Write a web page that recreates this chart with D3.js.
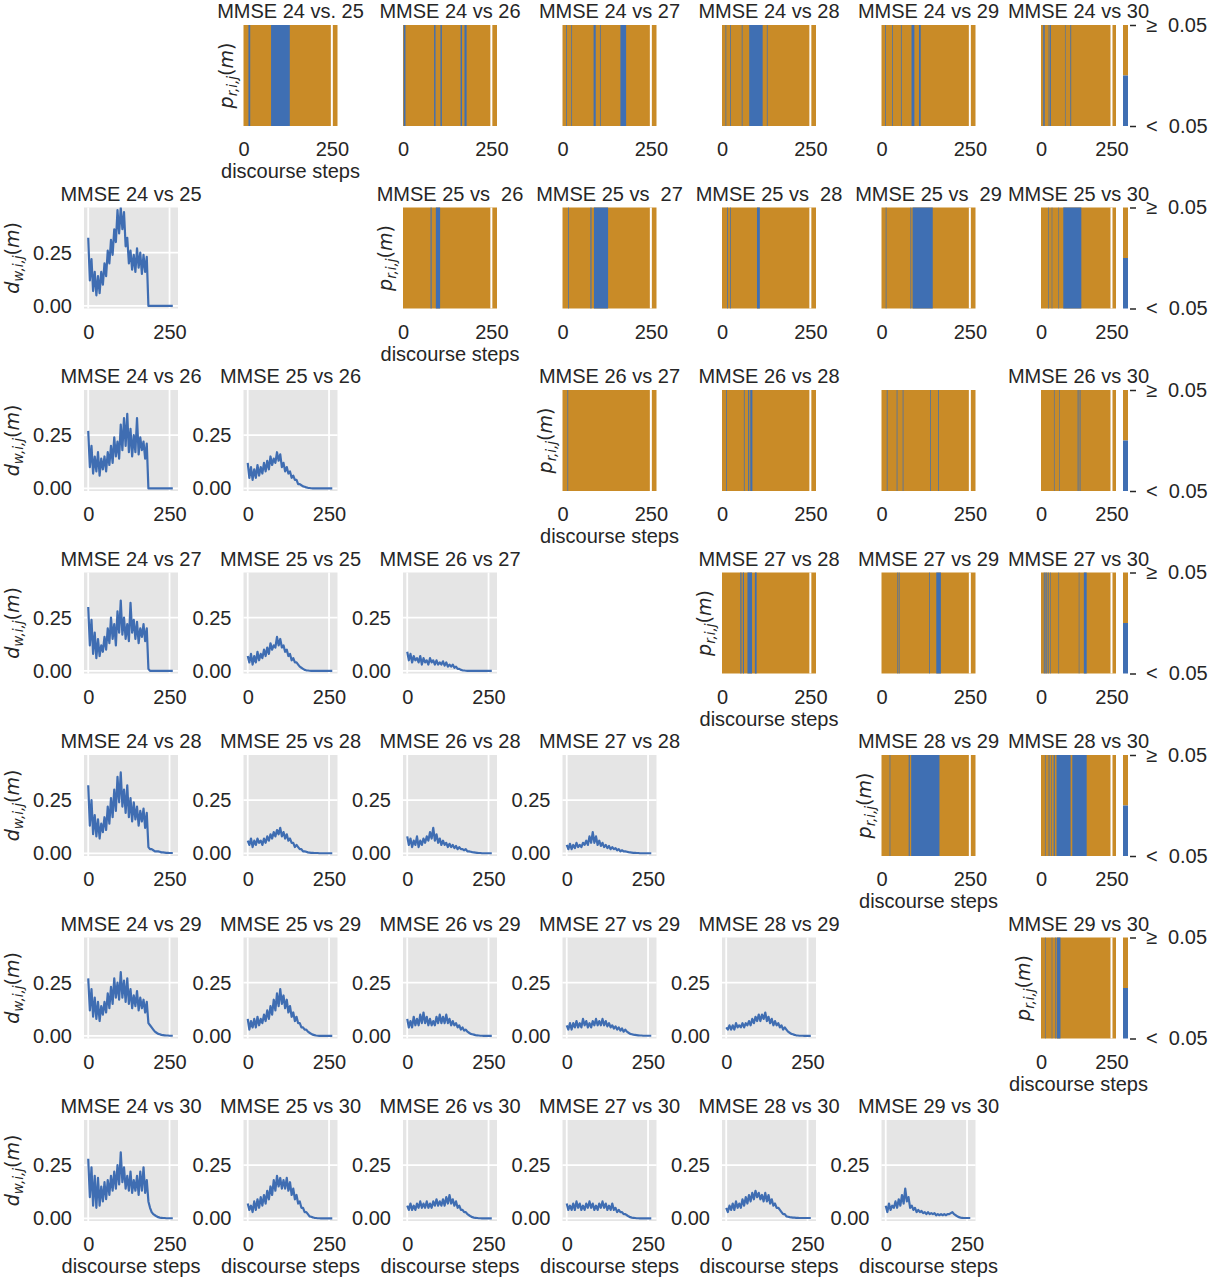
<!DOCTYPE html>
<html><head><meta charset="utf-8">
<script src="https://cdn.jsdelivr.net/npm/d3@7"></script>
<style>
body{margin:0;background:#fff}
svg text{font-family:"Liberation Sans",Arial,sans-serif;fill:#262626}
.math{font-family:"DejaVu Sans",sans-serif}
</style>
</head><body><svg id="chart" width="1212" height="1280"></svg>
<script>
// ---------------- data ----------------
const mmseLevels=[24,25,26,27,28,29,30];
const stepGrid=d3.range(0,265,5); // discourse steps sampled
const xTickVals=[0,250];
const yTickVals=[0,0.25];
const cbarTickLabels=["<\u00a0\u00a00.05","\u2265\u00a0\u00a00.05"];

// d_w,i,j(m) series (every 5 steps)
const d24_25=[0.32,0.12,0.22,0.07,0.16,0.05,0.14,0.06,0.16,0.10,0.20,0.14,0.26,0.20,0.31,0.24,0.36,0.30,0.45,0.34,0.46,0.36,0.44,0.28,0.32,0.20,0.26,0.17,0.24,0.16,0.27,0.18,0.25,0.15,0.24,0.16,0.23,0,0,0,0,0,0,0,0,0,0,0,0,0,0,0,0];
const d24_26=[0.27,0.10,0.20,0.07,0.15,0.08,0.17,0.06,0.14,0.09,0.15,0.08,0.17,0.11,0.20,0.12,0.24,0.15,0.22,0.14,0.30,0.18,0.33,0.20,0.35,0.17,0.28,0.15,0.25,0.17,0.33,0.16,0.24,0.18,0.22,0.14,0.21,0,0,0,0,0,0,0,0,0,0,0,0,0,0,0,0];
const d24_27=[0.30,0.12,0.24,0.08,0.18,0.06,0.15,0.07,0.12,0.09,0.16,0.10,0.20,0.13,0.25,0.15,0.22,0.12,0.28,0.18,0.33,0.17,0.25,0.15,0.22,0.14,0.32,0.18,0.24,0.15,0.23,0.13,0.20,0.16,0.22,0.14,0.20,0.01,0,0,0,0,0,0,0,0,0,0,0,0,0,0,0];
const d24_28=[0.32,0.13,0.25,0.09,0.18,0.08,0.16,0.07,0.14,0.10,0.17,0.11,0.22,0.14,0.26,0.17,0.30,0.20,0.36,0.24,0.38,0.22,0.30,0.19,0.32,0.17,0.26,0.15,0.24,0.16,0.22,0.13,0.20,0.15,0.21,0.12,0.19,0.03,0.02,0.02,0.015,0.01,0.01,0.01,0.008,0.005,0.005,0.004,0.003,0.003,0.002,0.002,0.002];
const d24_29=[0.27,0.12,0.22,0.09,0.18,0.08,0.16,0.07,0.14,0.10,0.16,0.11,0.20,0.13,0.23,0.15,0.27,0.18,0.25,0.17,0.30,0.18,0.26,0.16,0.27,0.15,0.22,0.13,0.19,0.14,0.21,0.12,0.18,0.13,0.17,0.11,0.16,0.06,0.05,0.04,0.03,0.02,0.015,0.01,0.008,0.005,0.004,0.003,0.002,0.002,0.001,0.001,0.001];
const d24_30=[0.28,0.10,0.24,0.06,0.20,0.05,0.19,0.06,0.15,0.08,0.17,0.09,0.18,0.11,0.20,0.13,0.22,0.14,0.25,0.16,0.31,0.17,0.24,0.14,0.20,0.13,0.22,0.12,0.18,0.13,0.20,0.11,0.22,0.13,0.24,0.12,0.18,0.08,0.05,0.03,0.02,0.015,0.01,0.006,0.004,0.003,0.002,0.002,0.001,0.001,0.001,0.001,0.001];
const d25_26=[0.12,0.05,0.10,0.04,0.09,0.05,0.11,0.06,0.10,0.07,0.12,0.08,0.13,0.09,0.15,0.11,0.14,0.12,0.17,0.13,0.16,0.10,0.12,0.08,0.10,0.07,0.08,0.05,0.06,0.04,0.04,0.02,0.02,0.015,0.01,0.008,0.005,0.003,0.002,0.001,0,0,0,0,0,0,0,0,0,0,0,0,0];
const d25_27=[0.07,0.04,0.08,0.03,0.07,0.04,0.09,0.05,0.08,0.06,0.10,0.07,0.11,0.08,0.13,0.10,0.12,0.11,0.16,0.12,0.15,0.11,0.12,0.09,0.10,0.07,0.08,0.05,0.06,0.04,0.04,0.03,0.02,0.015,0.01,0.005,0.003,0.002,0.001,0,0,0,0,0,0,0,0,0,0,0,0,0,0];
const d26_27=[0.09,0.05,0.08,0.04,0.07,0.05,0.06,0.04,0.07,0.03,0.06,0.04,0.05,0.03,0.06,0.04,0.05,0.03,0.05,0.03,0.04,0.03,0.045,0.025,0.04,0.02,0.03,0.02,0.03,0.015,0.02,0.01,0.01,0.005,0.003,0.002,0.001,0,0,0,0,0,0,0,0,0,0,0,0,0,0,0,0];
const d25_28=[0.06,0.04,0.07,0.03,0.06,0.04,0.07,0.05,0.06,0.04,0.07,0.05,0.08,0.06,0.09,0.07,0.10,0.08,0.11,0.09,0.12,0.08,0.10,0.07,0.09,0.06,0.07,0.05,0.05,0.03,0.04,0.03,0.02,0.02,0.01,0.01,0.008,0.005,0.004,0.003,0.003,0.002,0.002,0.002,0.001,0.001,0.001,0.001,0.001,0.001,0.001,0.001,0.001];
const d26_28=[0.08,0.04,0.07,0.03,0.06,0.04,0.08,0.03,0.06,0.04,0.07,0.05,0.08,0.06,0.10,0.07,0.12,0.06,0.09,0.05,0.07,0.04,0.06,0.04,0.05,0.03,0.045,0.03,0.04,0.025,0.035,0.02,0.03,0.02,0.02,0.015,0.02,0.01,0.01,0.008,0.006,0.005,0.004,0.003,0.002,0.002,0.001,0.001,0.001,0.001,0.001,0.001,0.001];
const d27_28=[0.04,0.02,0.045,0.02,0.04,0.025,0.05,0.03,0.04,0.03,0.05,0.04,0.06,0.04,0.08,0.05,0.10,0.05,0.08,0.04,0.06,0.035,0.05,0.03,0.04,0.025,0.035,0.02,0.03,0.02,0.025,0.015,0.02,0.01,0.015,0.01,0.01,0.008,0.006,0.005,0.004,0.003,0.003,0.002,0.002,0.001,0.001,0.001,0.001,0.001,0.001,0.001,0.001];
const d25_29=[0.08,0.03,0.07,0.04,0.08,0.04,0.09,0.05,0.08,0.06,0.10,0.07,0.12,0.08,0.14,0.10,0.17,0.12,0.20,0.14,0.22,0.15,0.19,0.13,0.17,0.11,0.14,0.09,0.11,0.07,0.09,0.06,0.06,0.04,0.04,0.03,0.03,0.02,0.015,0.01,0.006,0.004,0.002,0.001,0,0,0,0,0,0,0,0,0];
const d26_29=[0.08,0.04,0.07,0.04,0.09,0.05,0.08,0.05,0.10,0.06,0.11,0.06,0.09,0.05,0.08,0.05,0.07,0.05,0.09,0.06,0.10,0.06,0.09,0.06,0.10,0.06,0.08,0.05,0.07,0.05,0.06,0.04,0.05,0.03,0.04,0.025,0.03,0.02,0.015,0.01,0.008,0.006,0.004,0.003,0.002,0.001,0.001,0,0,0,0,0,0];
const d27_29=[0.05,0.03,0.06,0.03,0.06,0.04,0.07,0.04,0.06,0.04,0.08,0.05,0.07,0.04,0.06,0.04,0.07,0.05,0.08,0.05,0.07,0.05,0.08,0.05,0.07,0.045,0.06,0.04,0.05,0.035,0.045,0.03,0.04,0.025,0.035,0.02,0.03,0.02,0.015,0.01,0.008,0.006,0.005,0.004,0.003,0.002,0.002,0.001,0.001,0.001,0.001,0.001,0.001];
const d28_29=[0.04,0.03,0.05,0.03,0.05,0.03,0.06,0.04,0.05,0.04,0.06,0.04,0.06,0.05,0.07,0.05,0.08,0.06,0.09,0.07,0.10,0.07,0.10,0.08,0.11,0.07,0.09,0.06,0.08,0.05,0.07,0.05,0.06,0.04,0.05,0.03,0.04,0.03,0.02,0.015,0.01,0.008,0.005,0.003,0.002,0.001,0.001,0.001,0,0,0,0,0];
const d25_30=[0.07,0.04,0.06,0.03,0.08,0.04,0.09,0.05,0.10,0.06,0.11,0.07,0.13,0.09,0.15,0.11,0.18,0.13,0.20,0.15,0.19,0.14,0.18,0.14,0.19,0.13,0.17,0.11,0.14,0.09,0.11,0.07,0.08,0.05,0.05,0.03,0.03,0.02,0.01,0.008,0.005,0.003,0.002,0.001,0.001,0,0,0,0,0,0,0,0];
const d26_30=[0.06,0.04,0.07,0.04,0.06,0.04,0.07,0.05,0.08,0.05,0.07,0.05,0.08,0.05,0.07,0.05,0.08,0.06,0.09,0.06,0.08,0.06,0.09,0.06,0.10,0.07,0.11,0.07,0.09,0.06,0.08,0.05,0.06,0.04,0.04,0.03,0.03,0.02,0.015,0.01,0.006,0.004,0.003,0.002,0.001,0.001,0,0,0,0,0,0,0];
const d27_30=[0.07,0.04,0.06,0.04,0.07,0.04,0.08,0.05,0.07,0.04,0.06,0.04,0.07,0.05,0.08,0.05,0.07,0.04,0.06,0.04,0.07,0.05,0.08,0.05,0.07,0.04,0.06,0.04,0.07,0.04,0.05,0.03,0.04,0.03,0.03,0.02,0.02,0.015,0.01,0.006,0.004,0.003,0.002,0.001,0.001,0,0,0,0,0,0,0,0];
const d28_30=[0.05,0.03,0.06,0.04,0.07,0.04,0.08,0.05,0.07,0.05,0.09,0.06,0.10,0.07,0.11,0.08,0.12,0.09,0.13,0.10,0.12,0.09,0.11,0.08,0.12,0.08,0.11,0.07,0.09,0.06,0.07,0.05,0.05,0.04,0.03,0.02,0.02,0.01,0.008,0.006,0.005,0.004,0.004,0.003,0.003,0.002,0.002,0.002,0.002,0.002,0.002,0.002,0.002];
const d29_30=[0.06,0.03,0.07,0.04,0.06,0.05,0.08,0.05,0.09,0.06,0.11,0.07,0.14,0.08,0.10,0.05,0.06,0.04,0.05,0.03,0.04,0.03,0.035,0.025,0.03,0.02,0.03,0.02,0.025,0.02,0.025,0.015,0.02,0.015,0.02,0.015,0.02,0.015,0.02,0.02,0.025,0.03,0.02,0.015,0.01,0.006,0.004,0.003,0.002,0.002,0.002,0.002,0.002];

// p_r,i,j(m) < 0.05 intervals (discourse steps)
const p24_25=[[14,19],[78,131]];
const p24_26=[[2,7],[88,92],[106,110],[163,167],[174,180]];
const p24_27=[[10,12],[25,27],[88,94],[106,108],[164,180]];
const p24_28=[[10,12],[23,25],[56,58],[77,115],[127,129]];
const p24_29=[[10,12],[30,32],[55,57],[85,93],[106,111]];
const p24_30=[[8,13],[27,30],[32,35],[85,87],[104,107]];
const p25_26=[[78,81],[93,105]];
const p25_27=[[16,18],[79,82],[89,129]];
const p25_28=[[15,17],[23,25],[99,107]];
const p25_29=[[12,14],[82,84],[88,145]];
const p25_30=[[26,28],[38,40],[62,64],[79,143]];
const p26_27=[[14,16]];
const p26_28=[[12,14],[62,64],[74,77],[80,86]];
const p26_29=[[15,17],[43,45],[60,62],[138,140],[160,162]];
const p26_30=[[46,48],[65,67],[130,133],[137,140]];
const p27_28=[[52,55],[59,62],[72,85],[93,98]];
const p27_29=[[45,47],[49,51],[135,137],[155,168]];
const p27_30=[[10,13],[16,20],[24,27],[33,35],[62,64],[134,136],[152,162]];
const p28_29=[[23,25],[77,80],[84,164]];
const p28_30=[[14,16],[27,30],[36,38],[45,49],[55,105],[111,162]];
const p29_30=[[14,16],[38,40],[51,53],[56,69]];

const linePanels=[
 {row:1,col:0,title:"MMSE 24 vs 25",values:d24_25},
 {row:2,col:0,title:"MMSE 24 vs 26",values:d24_26},
 {row:2,col:1,title:"MMSE 25 vs 26",values:d25_26},
 {row:3,col:0,title:"MMSE 24 vs 27",values:d24_27},
 {row:3,col:1,title:"MMSE 25 vs 25",values:d25_27},
 {row:3,col:2,title:"MMSE 26 vs 27",values:d26_27},
 {row:4,col:0,title:"MMSE 24 vs 28",values:d24_28},
 {row:4,col:1,title:"MMSE 25 vs 28",values:d25_28},
 {row:4,col:2,title:"MMSE 26 vs 28",values:d26_28},
 {row:4,col:3,title:"MMSE 27 vs 28",values:d27_28},
 {row:5,col:0,title:"MMSE 24 vs 29",values:d24_29},
 {row:5,col:1,title:"MMSE 25 vs 29",values:d25_29},
 {row:5,col:2,title:"MMSE 26 vs 29",values:d26_29},
 {row:5,col:3,title:"MMSE 27 vs 29",values:d27_29},
 {row:5,col:4,title:"MMSE 28 vs 29",values:d28_29},
 {row:6,col:0,title:"MMSE 24 vs 30",values:d24_30},
 {row:6,col:1,title:"MMSE 25 vs 30",values:d25_30},
 {row:6,col:2,title:"MMSE 26 vs 30",values:d26_30},
 {row:6,col:3,title:"MMSE 27 vs 30",values:d27_30},
 {row:6,col:4,title:"MMSE 28 vs 30",values:d28_30},
 {row:6,col:5,title:"MMSE 29 vs 30",values:d29_30}
];
const heatPanels=[
 {row:0,col:1,title:"MMSE 24 vs. 25",bands:p24_25},
 {row:0,col:2,title:"MMSE 24 vs 26",bands:p24_26},
 {row:0,col:3,title:"MMSE 24 vs 27",bands:p24_27},
 {row:0,col:4,title:"MMSE 24 vs 28",bands:p24_28},
 {row:0,col:5,title:"MMSE 24 vs 29",bands:p24_29},
 {row:0,col:6,title:"MMSE 24 vs 30",bands:p24_30},
 {row:1,col:2,title:"MMSE 25 vs  26",bands:p25_26},
 {row:1,col:3,title:"MMSE 25 vs  27",bands:p25_27},
 {row:1,col:4,title:"MMSE 25 vs  28",bands:p25_28},
 {row:1,col:5,title:"MMSE 25 vs  29",bands:p25_29},
 {row:1,col:6,title:"MMSE 25 vs 30",bands:p25_30},
 {row:2,col:3,title:"MMSE 26 vs 27",bands:p26_27},
 {row:2,col:4,title:"MMSE 26 vs 28",bands:p26_28},
 {row:2,col:5,title:"",bands:p26_29},
 {row:2,col:6,title:"MMSE 26 vs 30",bands:p26_30},
 {row:3,col:4,title:"MMSE 27 vs 28",bands:p27_28},
 {row:3,col:5,title:"MMSE 27 vs 29",bands:p27_29},
 {row:3,col:6,title:"MMSE 27 vs 30",bands:p27_30},
 {row:4,col:5,title:"MMSE 28 vs 29",bands:p28_29},
 {row:4,col:6,title:"MMSE 28 vs 30",bands:p28_30},
 {row:5,col:6,title:"MMSE 29 vs 30",bands:p29_30}
];

// ---------------- style / layout ----------------
const ORANGE="#c98b27", BLUE="#3f6fb3", LINE="#3f6db2", BG="#e5e5e5";
const colX=c=>84+c*159.5;
const rowY=r=>25+r*182.5;
const PW=94, PH=101, PW_LAST=75;
const FS=20;

const svg=d3.select("#chart");
const defs=svg.append("defs");

function styleAxis(g){
  g.select(".domain").remove();
  g.selectAll("text").attr("font-size",FS).attr("fill","#262626")
   .attr("font-family",'"Liberation Sans",Arial,sans-serif');
}
function addTitle(text,cx,top){
  if(!text) return;
  svg.append("text").attr("x",cx).attr("y",top-7).attr("text-anchor","middle")
    .attr("font-size",FS).style("white-space","pre").text(text);
}
function addXLabel(cx,bottom){
  svg.append("text").attr("x",cx).attr("y",bottom+52).attr("text-anchor","middle")
    .attr("font-size",FS).text("discourse steps");
}
function addMathYLabel(x,cy,letter,sub){
  const t=svg.append("text").attr("class","math")
    .attr("transform",`translate(${x},${cy}) rotate(-90)`)
    .attr("text-anchor","middle").attr("font-size",19);
  t.append("tspan").attr("font-style","italic").text(letter);
  t.append("tspan").attr("font-style","italic").attr("font-size",13.5).attr("dy",4).text(sub);
  t.append("tspan").attr("dy",-4).text("(");
  t.append("tspan").attr("font-style","italic").text("m");
  t.append("tspan").text(")");
}

// ---------------- line panels ----------------
linePanels.forEach((p,i)=>{
  const L=colX(p.col), T=rowY(p.row);
  const x=d3.scaleLinear().domain([-13,276]).range([L,L+PW]);
  const y=d3.scaleLinear().domain([-0.012,0.462]).range([T+PH,T]);
  svg.append("rect").attr("x",L).attr("y",T).attr("width",PW).attr("height",PH).attr("fill",BG);
  xTickVals.forEach(v=>svg.append("line").attr("x1",x(v)).attr("x2",x(v)).attr("y1",T).attr("y2",T+PH)
     .attr("stroke","#fff").attr("stroke-width",1.8));
  yTickVals.forEach(v=>svg.append("line").attr("x1",L).attr("x2",L+PW).attr("y1",y(v)).attr("y2",y(v))
     .attr("stroke","#fff").attr("stroke-width",1.8));
  const cid="clipL"+i;
  defs.append("clipPath").attr("id",cid).append("rect").attr("x",L).attr("y",T).attr("width",PW).attr("height",PH);
  svg.append("path").datum(p.values).attr("clip-path",`url(#${cid})`)
    .attr("d",d3.line().x((d,k)=>x(stepGrid[k])).y(d=>y(d)))
    .attr("fill","none").attr("stroke",LINE).attr("stroke-width",2.2).attr("stroke-linejoin","round");
  svg.append("g").attr("transform",`translate(0,${T+PH})`)
    .call(d3.axisBottom(x).tickValues(xTickVals).tickSize(0).tickPadding(16).tickFormat(d3.format("d"))).call(styleAxis);
  svg.append("g").attr("transform",`translate(${L},0)`)
    .call(d3.axisLeft(y).tickValues(yTickVals).tickSize(0).tickPadding(12).tickFormat(d3.format(".2f"))).call(styleAxis);
  addTitle(p.title,L+PW/2,T);
  if(p.row===6) addXLabel(L+PW/2,T+PH);
  if(p.col===0) addMathYLabel(L-65,T+PH/2,"d","w,i,j");
});

// ---------------- heat panels ----------------
heatPanels.forEach(p=>{
  const L=colX(p.col), T=rowY(p.row);
  const W=p.col===6?PW_LAST:PW;
  const x=d3.scaleLinear().domain([0,266]).range([L,L+W]);
  svg.append("rect").attr("x",L).attr("y",T).attr("width",W).attr("height",PH).attr("fill",ORANGE);
  svg.selectAll(null).data(p.bands).enter().append("rect")
    .attr("x",d=>x(d[0])).attr("width",d=>x(d[1])-x(d[0]))
    .attr("y",T).attr("height",PH).attr("fill",BLUE);
  svg.append("line").attr("x1",x(250)).attr("x2",x(250)).attr("y1",T).attr("y2",T+PH)
    .attr("stroke","#fff").attr("stroke-width",2);
  svg.append("g").attr("transform",`translate(0,${T+PH})`)
    .call(d3.axisBottom(x).tickValues(xTickVals).tickSize(0).tickPadding(16).tickFormat(d3.format("d"))).call(styleAxis);
  addTitle(p.title,L+W/2,T);
  if(p.col===p.row+1){
    addMathYLabel(L-11,T+PH/2,"p","r,i,j");
    addXLabel(L+W/2,T+PH);
  }
  if(p.col===6){
    const cx=L+W+7;
    const cy=d3.scaleLinear().domain([0,1]).range([T+PH,T]);
    svg.append("rect").attr("x",cx).attr("y",cy(1)).attr("width",5).attr("height",cy(0.5)-cy(1)).attr("fill",ORANGE);
    svg.append("rect").attr("x",cx).attr("y",cy(0.5)).attr("width",5).attr("height",cy(0)-cy(0.5)).attr("fill",BLUE);
    const ax=svg.append("g").attr("transform",`translate(${cx+7},0)`)
      .call(d3.axisRight(cy).tickValues([0,1]).tickSize(6).tickPadding(10).tickFormat((d,k)=>cbarTickLabels[k]));
    ax.select(".domain").remove();
    ax.selectAll("line").attr("stroke","#262626").attr("stroke-width",1.5);
    ax.selectAll("text").attr("font-size",FS).attr("fill","#262626")
      .attr("font-family",'"Liberation Sans",Arial,sans-serif');
  }
});
</script>
</body></html>
